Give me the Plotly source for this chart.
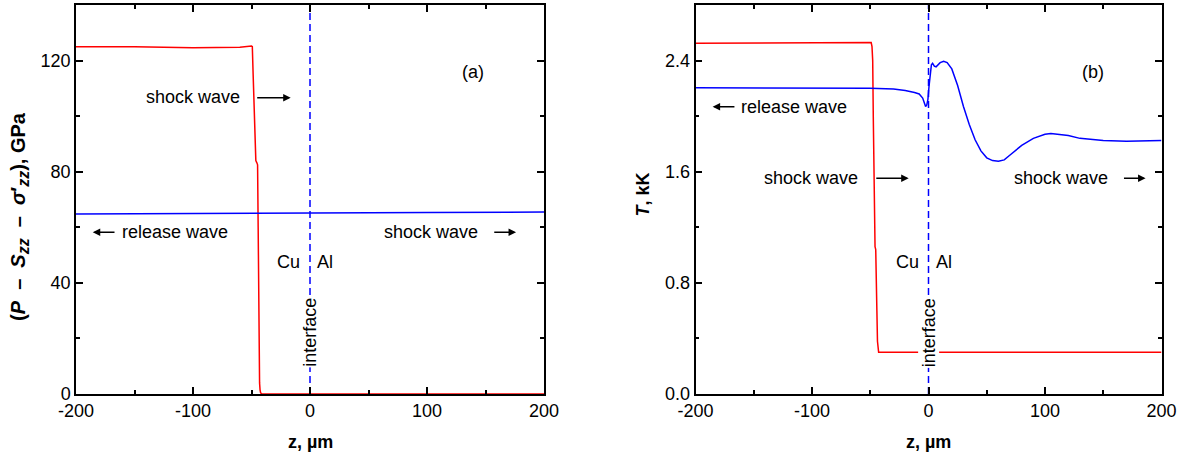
import plotly.graph_objects as go

# ---- data (a): P - Szz - sigma'zz, GPa ----
z_a_red = [-200, -150, -100, -80, -60, -50, -49.3, -48.6, -47.8, -47, -46.3, -45.5, -44.8,
           -44.3, -43.9, -43.5, -43.1, -42.7, -42.2, -41, 0, 100, 200]
p_a_red = [125.0, 125.0, 124.6, 124.8, 124.8, 125.2, 125.0, 115, 102, 90, 84, 83.3, 82.5,
           60, 30, 12, 4, 1.5, 0.4, 0, 0, 0, 0]
z_a_blue = [-200, -100, 0, 100, 200]
p_a_blue = [64.8, 64.9, 65.1, 65.3, 65.5]

# ---- data (b): T, kK ----
z_b_red = [-200, -100, -55, -49.2, -48.5, -47.9, -47.4, -46.9, -46.4, -45.9, -45.3,
           -44.8, -44.3, -43.8, -43.3, -42.8, 0, 100, 200]
t_b_red = [2.525, 2.525, 2.53, 2.53, 2.50, 2.40, 2.00, 1.50, 1.12, 1.06, 1.04,
           0.90, 0.60, 0.38, 0.31, 0.30, 0.30, 0.30, 0.30]
z_b_blue = [-200, -150, -100, -50, -30, -20, -12, -8, -5, -3.5, -2.5, -1.5, -0.5, 0.5,
            1.5, 2.5, 3.5, 5, 6.5, 8, 10, 13, 16, 20, 25, 30, 35, 40, 45, 50, 55, 60,
            65, 70, 80, 90, 100, 105, 110, 120, 130, 140, 150, 170, 200]
t_b_blue = [2.205, 2.205, 2.205, 2.20, 2.195, 2.185, 2.17, 2.16, 2.13, 2.09, 2.07, 2.08,
            2.12, 2.22, 2.33, 2.37, 2.38, 2.36, 2.355, 2.365, 2.385, 2.395, 2.385, 2.34,
            2.22, 2.07, 1.94, 1.83, 1.75, 1.70, 1.68, 1.675, 1.685, 1.72, 1.79, 1.84,
            1.87, 1.875, 1.87, 1.86, 1.84, 1.83, 1.825, 1.82, 1.825]

x_ticks = [-200, -100, 0, 100, 200]
x_ticktext = ["-200", "-100", "0", "100", "200"]
ya_ticks = [0, 40, 80, 120]
yb_ticks = [0.0, 0.8, 1.6, 2.4]
yb_ticktext = ["0.0", "0.8", "1.6", "2.4"]
interface_a = [0, 140]
interface_b = [0, 2.8]

FONT = "Liberation Sans, Arial, sans-serif"
W, H = 1186, 459
T_M, B_M = 5, 65

fig = go.Figure()
fig.add_trace(go.Scatter(x=z_a_red, y=p_a_red, mode="lines", line=dict(color="#ff0000", width=1.5),
                         xaxis="x", yaxis="y"))
fig.add_trace(go.Scatter(x=z_a_blue, y=p_a_blue, mode="lines", line=dict(color="#0000ff", width=1.5),
                         xaxis="x", yaxis="y"))
fig.add_trace(go.Scatter(x=[0, 0], y=interface_a, mode="lines",
                         line=dict(color="#0000ff", width=1.5, dash="7px,4px"), xaxis="x", yaxis="y"))
fig.add_trace(go.Scatter(x=z_b_red, y=t_b_red, mode="lines", line=dict(color="#ff0000", width=1.5),
                         xaxis="x2", yaxis="y2"))
fig.add_trace(go.Scatter(x=z_b_blue, y=t_b_blue, mode="lines", line=dict(color="#0000ff", width=1.5),
                         xaxis="x2", yaxis="y2"))
fig.add_trace(go.Scatter(x=[0, 0], y=interface_b, mode="lines",
                         line=dict(color="#0000ff", width=1.5, dash="7px,4px"), xaxis="x2", yaxis="y2"))

axis_common = dict(showline=True, linecolor="black", linewidth=1.5, mirror="ticks",
                   ticks="inside", ticklen=7, tickwidth=1.5, tickcolor="black",
                   showgrid=False, zeroline=False, tickfont=dict(family=FONT, size=18, color="black"),
                   automargin=False)

fig.update_layout(
    width=W, height=H, showlegend=False,
    plot_bgcolor="white", paper_bgcolor="white",
    margin=dict(l=0, r=0, t=T_M, b=B_M),
    xaxis=dict(domain=[76 / W, 544 / W], range=[-200, 200], tickvals=x_ticks, ticktext=x_ticktext,
               minor=dict(dtick=50, ticks="inside", ticklen=4, tickwidth=1.5, tickcolor="black"),
               anchor="y", **axis_common),
    yaxis=dict(domain=[0, 1], range=[0, 140], tickvals=ya_ticks,
               minor=dict(dtick=20, ticks="inside", ticklen=4, tickwidth=1.5, tickcolor="black"),
               anchor="x", **axis_common),
    xaxis2=dict(domain=[695.5 / W, 1161.5 / W], range=[-200, 200], tickvals=x_ticks, ticktext=x_ticktext,
                minor=dict(dtick=50, ticks="inside", ticklen=4, tickwidth=1.5, tickcolor="black"),
                anchor="y2", **axis_common),
    yaxis2=dict(domain=[0, 1], range=[0, 2.8], tickvals=yb_ticks, ticktext=yb_ticktext,
                minor=dict(dtick=0.4, ticks="inside", ticklen=4, tickwidth=1.5, tickcolor="black"),
                anchor="x2", **axis_common),
)

f18 = dict(family=FONT, size=18, color="black")
ann = []


def text(x, y, s, xr, yr, **kw):
    d = dict(x=x, y=y, text=s, xref=xr, yref=yr, showarrow=False, font=f18,
             xanchor="center", yanchor="middle")
    d.update(kw)
    ann.append(d)


def arrow(x0, x1, y, xr, yr):
    ann.append(dict(x=x1, y=y, ax=x0, ay=y, xref=xr, yref=yr, axref=xr, ayref=yr, text="",
                    showarrow=True, arrowhead=2, arrowsize=1, arrowwidth=1.5, arrowcolor="black"))


# panel (a)
text(139.3, 115.9, "(a)", "x", "y")
text(-100.4, 106.9, "shock wave", "x", "y")
arrow(-46.4, -16.5, 106.6, "x", "y")
text(-115, 58.2, "release wave", "x", "y")
arrow(-165.8, -185.7, 58.2, "x", "y")
text(103.4, 58.2, "shock wave", "x", "y")
arrow(156.2, 176.1, 58.2, "x", "y")
text(-18, 47.6, "Cu", "x", "y")
text(12.6, 47.6, "Al", "x", "y")
text(0, 22, "interface", "x", "y", textangle=-90, bgcolor="white", borderpad=0)

# panel (b)
text(140.8, 2.318, "(b)", "x2", "y2")
text(-115.3, 2.068, "release wave", "x2", "y2")
arrow(-165.3, -185.3, 2.068, "x2", "y2")
text(-101, 1.553, "shock wave", "x2", "y2")
arrow(-46.1, -17, 1.553, "x2", "y2")
text(113.4, 1.553, "shock wave", "x2", "y2")
arrow(166.5, 186.3, 1.553, "x2", "y2")
text(-17.8, 0.95, "Cu", "x2", "y2")
text(13.1, 0.95, "Al", "x2", "y2")
text(0, 0.44, "interface", "x2", "y2", textangle=-90, bgcolor="white", borderpad=0)

# axis titles
PH = H - T_M - B_M
fb = dict(family=FONT, size=18, color="black")
fb20 = dict(family=FONT, size=20, color="black")
SUB = '<sub><span style="font-size:16px">zz</span></sub>'
ytitle_a = ("<b>(<i>P</i>&nbsp;&nbsp;–&nbsp;&nbsp;<i>S</i><i>" + SUB
            + "</i>&nbsp;&nbsp;–&nbsp;&nbsp;<i>σ</i>′<i>" + SUB + "</i>), GPa</b>")
text(19 / W, (394 - 217) / PH, ytitle_a, "paper", "paper", textangle=-90, font=fb20)
text(642 / W, (394 - 194.5) / PH, "<b><i>T</i>, kK</b>", "paper", "paper", textangle=-90, font=fb)
text(310 / W, (394 - 442) / PH, "<b>z, µm</b>", "paper", "paper", font=fb)
text(928.5 / W, (394 - 442) / PH, "<b>z, µm</b>", "paper", "paper", font=fb)

fig.update_layout(annotations=ann)
fig.write_html("out.html")
